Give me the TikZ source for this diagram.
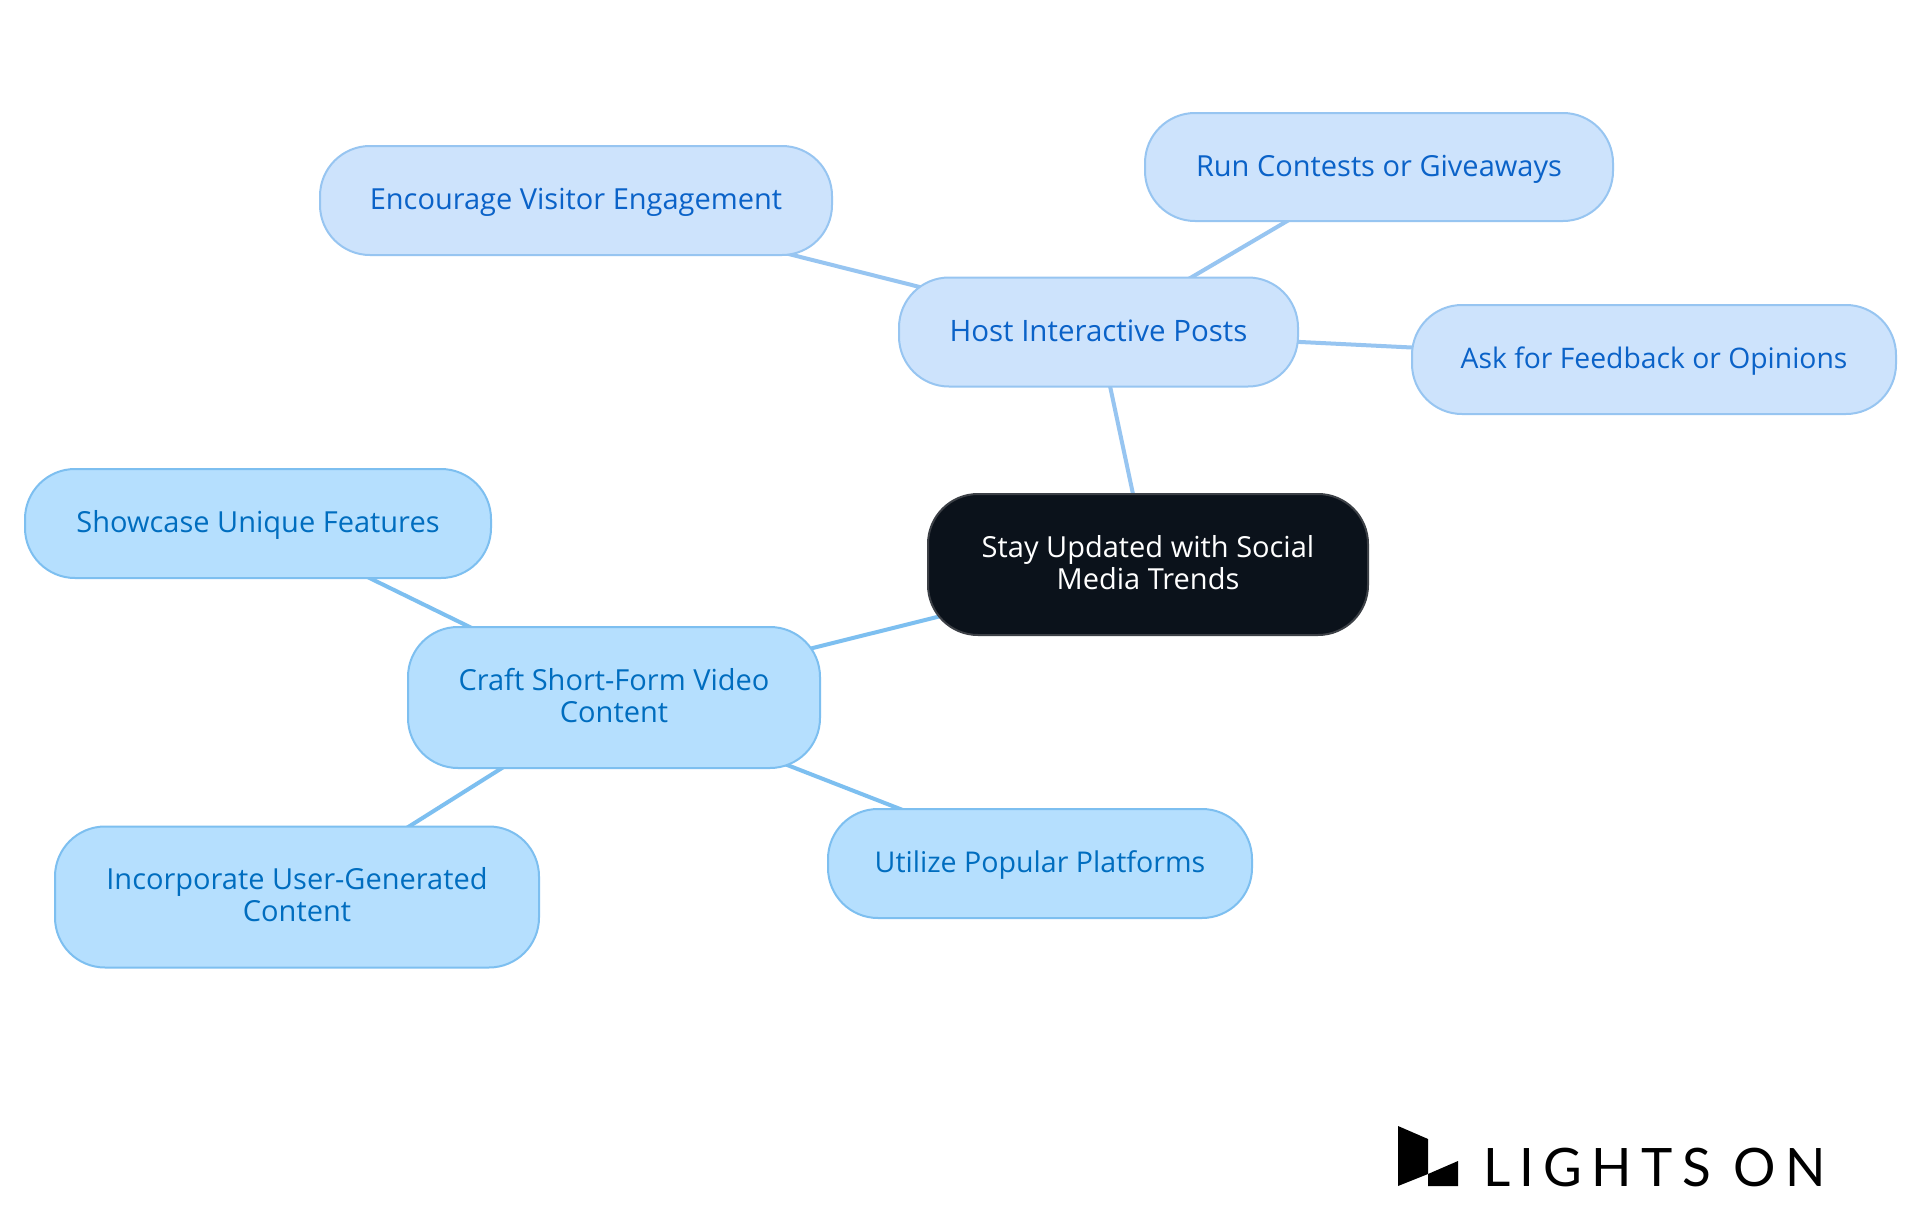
\documentclass[tikz,border=0pt]{standalone}
\usepackage{fontspec}
\setmainfont{Open Sans}
\newfontfamily\logofont[LetterSpace=17.5]{Lato}
\usetikzlibrary{backgrounds}
\definecolor{hostfill}{HTML}{CDE3FC}
\definecolor{hostline}{HTML}{97C5F1}
\definecolor{hosttext}{HTML}{0A62C8}
\definecolor{craftfill}{HTML}{B5DFFE}
\definecolor{craftline}{HTML}{7DBFF0}
\definecolor{crafttext}{HTML}{006DBF}
\definecolor{darkfill}{HTML}{0B121B}
\definecolor{darkline}{HTML}{3C4046}
\newcommand{\lowstrut}{\rule[-5pt]{0pt}{1pt}}
\tikzset{
  x=1pt,y=-1pt,
  box/.style={rounded corners=50pt,line width=2pt,inner sep=0pt,align=center,
     font=\fontsize{29}{32}\selectfont},
  single/.style={text height=24pt,text depth=6pt},
  fsize/.style={font=\fontsize{#1}{32}\selectfont},
  hostbox/.style={box,draw=hostline,fill=hostfill,text=hosttext},
  craftbox/.style={box,draw=craftline,fill=craftfill,text=crafttext},
  rootbox/.style={box,draw=darkline,fill=darkfill,text=white},
  hostedge/.style={draw=hostline,line width=4pt},
  craftedge/.style={draw=craftline,line width=4pt},
}
\begin{document}
\begin{tikzpicture}
\useasboundingbox (0,0) rectangle (1920,1215);
\node[rootbox,minimum width=440pt,minimum height=141pt] (root) at (1148,564.5) {Stay Updated with Social\\Media Trends\lowstrut};
\node[hostbox,single,fsize=29.5,minimum width=399pt,minimum height=109pt] (host) at (1098.5,332) {Host Interactive Posts};
\node[hostbox,single,minimum width=512pt,minimum height=109pt] (enc) at (576,200.5) {Encourage Visitor Engagement};
\node[hostbox,single,minimum width=468pt,minimum height=108pt] (run) at (1379,167) {Run Contests or Giveaways};
\node[hostbox,single,fsize=28.3,minimum width=484pt,minimum height=109pt] (ask) at (1654,359.5) {Ask for Feedback or Opinions};
\node[craftbox,minimum width=412pt,minimum height=141pt] (craft) at (614,697.5) {Craft Short-Form Video\\Content\lowstrut};
\node[craftbox,single,minimum width=466pt,minimum height=109pt] (show) at (258,523.5) {Showcase Unique Features};
\node[craftbox,single,fsize=28.6,minimum width=424pt,minimum height=109pt] (util) at (1040,863.5) {Utilize Popular Platforms};
\node[craftbox,minimum width=484pt,minimum height=141pt] (inc) at (297,897) {Incorporate User-Generated\\Content\lowstrut};
\begin{scope}[on background layer]
\fill[white] (0,0) rectangle (1920,1215);
\draw[hostedge] (root.center) -- (host.center);
\draw[hostedge] (host.center) -- (enc.center);
\draw[hostedge] (host.center) -- (run.center);
\draw[hostedge] (host.center) -- (ask.center);
\draw[craftedge] (root.center) -- (craft.center);
\draw[craftedge] (craft.center) -- (show.center);
\draw[craftedge] (craft.center) -- (util.center);
\draw[craftedge] (craft.center) -- (inc.center);
\end{scope}
\fill[black] (1398,1126) -- (1428,1139) -- (1428,1174) -- (1398,1186) -- cycle;
\fill[black] (1428,1174) -- (1458,1161) -- (1458,1186) -- (1428,1186) -- cycle;
\node[anchor=base west,inner sep=0pt,font=\logofont\fontsize{53}{53}\selectfont,text=black] (logo) at (1483,1186) {LIGHTS ON};
\end{tikzpicture}
\end{document}
